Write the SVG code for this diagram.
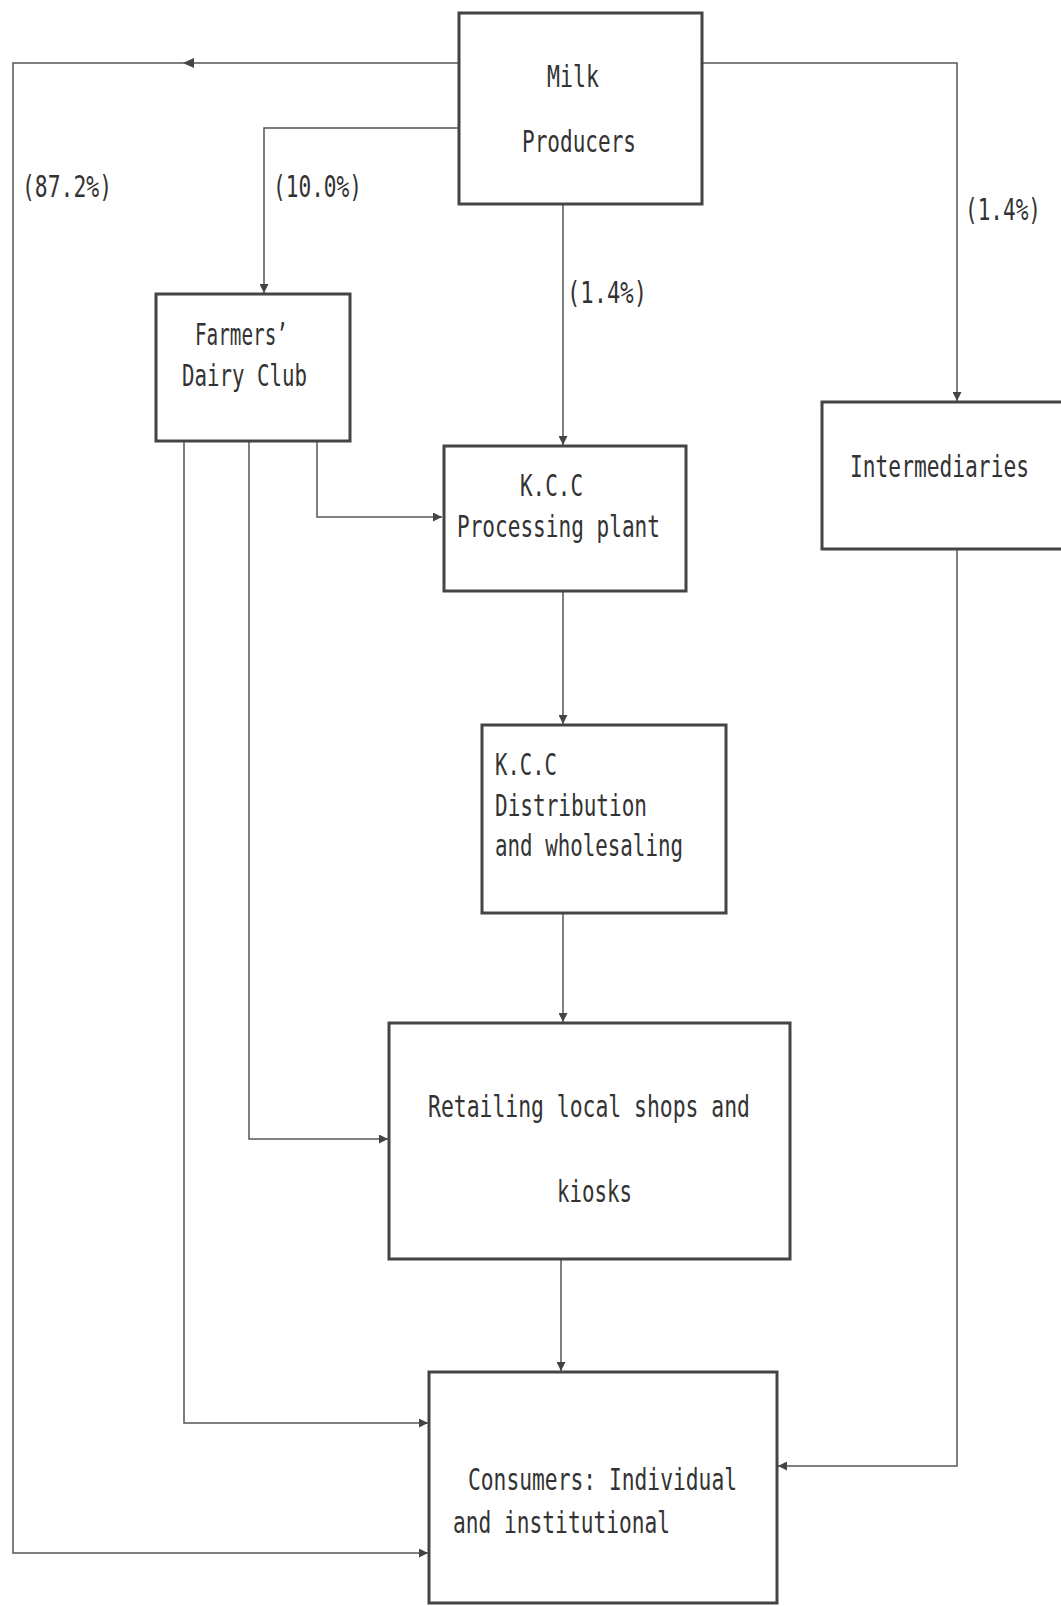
<svg xmlns="http://www.w3.org/2000/svg" width="1061" height="1606" viewBox="0 0 1061 1606">
  <defs>
    <marker id="arr" viewBox="0 0 10 10" refX="10" refY="5" markerWidth="11" markerHeight="9" markerUnits="userSpaceOnUse" orient="auto">
      <path d="M0,0 L10,5 L0,10 Z" fill="#444"/>
    </marker>
    <style>
      .box { fill: none; stroke: #444; stroke-width: 3; }
      .con { fill: none; stroke: #555; stroke-width: 1.5; }
      .t { font-family: "DejaVu Sans Mono", "Liberation Mono", monospace; font-size: 31px; fill: #333; }
    </style>
  </defs>
  <rect width="1061" height="1606" fill="#ffffff"/>

  <g id="connectors">
    <path class="con" d="M459,63 H13 V1553 H428" marker-end="url(#arr)"/>
    <path d="M183,63 L194,58 L194,68 Z" fill="#444"/>
    <path class="con" d="M459,128 H264 V293" marker-end="url(#arr)"/>
    <path class="con" d="M702,63 H957 V401" marker-end="url(#arr)"/>
    <path class="con" d="M563,205 V445" marker-end="url(#arr)"/>
    <path class="con" d="M317,441 V517 H442" marker-end="url(#arr)"/>
    <path class="con" d="M249,441 V1139 H388" marker-end="url(#arr)"/>
    <path class="con" d="M184,441 V1423 H428" marker-end="url(#arr)"/>
    <path class="con" d="M563,592 V724" marker-end="url(#arr)"/>
    <path class="con" d="M563,913 V1022" marker-end="url(#arr)"/>
    <path class="con" d="M561,1259 V1371" marker-end="url(#arr)"/>
    <path class="con" d="M957,550 V1466 H778" marker-end="url(#arr)"/>
    <text class="t" x="22" y="197" textLength="90" lengthAdjust="spacingAndGlyphs">(87.2%)</text>
    <text class="t" x="273" y="197" textLength="89" lengthAdjust="spacingAndGlyphs">(10.0%)</text>
    <text class="t" x="567" y="303" textLength="80" lengthAdjust="spacingAndGlyphs">(1.4%)</text>
    <text class="t" x="965" y="220" textLength="76" lengthAdjust="spacingAndGlyphs">(1.4%)</text>
  </g>

  <g id="milk-producers">
    <rect class="box" x="459" y="13" width="243" height="191"/>
    <text class="t" x="547" y="87" textLength="52" lengthAdjust="spacingAndGlyphs">Milk</text>
    <text class="t" x="522" y="152" textLength="114" lengthAdjust="spacingAndGlyphs">Producers</text>
  </g>

  <g id="farmers-dairy-club">
    <rect class="box" x="156" y="294" width="194" height="147"/>
    <text class="t" x="195" y="345" textLength="93" lengthAdjust="spacingAndGlyphs">Farmers’</text>
    <text class="t" x="182" y="386" textLength="125" lengthAdjust="spacingAndGlyphs">Dairy Club</text>
  </g>

  <g id="kcc-processing">
    <rect class="box" x="444" y="446" width="242" height="145"/>
    <text class="t" x="520" y="496" textLength="63" lengthAdjust="spacingAndGlyphs">K.C.C</text>
    <text class="t" x="457" y="537" textLength="203" lengthAdjust="spacingAndGlyphs">Processing plant</text>
  </g>

  <g id="intermediaries">
    <rect class="box" x="822" y="402" width="250" height="147"/>
    <text class="t" x="850" y="477" textLength="179" lengthAdjust="spacingAndGlyphs">Intermediaries</text>
  </g>

  <g id="kcc-distribution">
    <rect class="box" x="482" y="725" width="244" height="188"/>
    <text class="t" x="495" y="775" textLength="62" lengthAdjust="spacingAndGlyphs">K.C.C</text>
    <text class="t" x="495" y="816" textLength="152" lengthAdjust="spacingAndGlyphs">Distribution</text>
    <text class="t" x="495" y="856" textLength="188" lengthAdjust="spacingAndGlyphs">and wholesaling</text>
  </g>

  <g id="retailing">
    <rect class="box" x="389" y="1023" width="401" height="236"/>
    <text class="t" x="428" y="1117" textLength="322" lengthAdjust="spacingAndGlyphs">Retailing local shops and</text>
    <text class="t" x="557" y="1202" textLength="75" lengthAdjust="spacingAndGlyphs">kiosks</text>
  </g>

  <g id="consumers">
    <rect class="box" x="429" y="1372" width="348" height="231"/>
    <text class="t" x="468" y="1490" textLength="269" lengthAdjust="spacingAndGlyphs">Consumers: Individual</text>
    <text class="t" x="453" y="1533" textLength="217" lengthAdjust="spacingAndGlyphs">and institutional</text>
  </g>
</svg>
